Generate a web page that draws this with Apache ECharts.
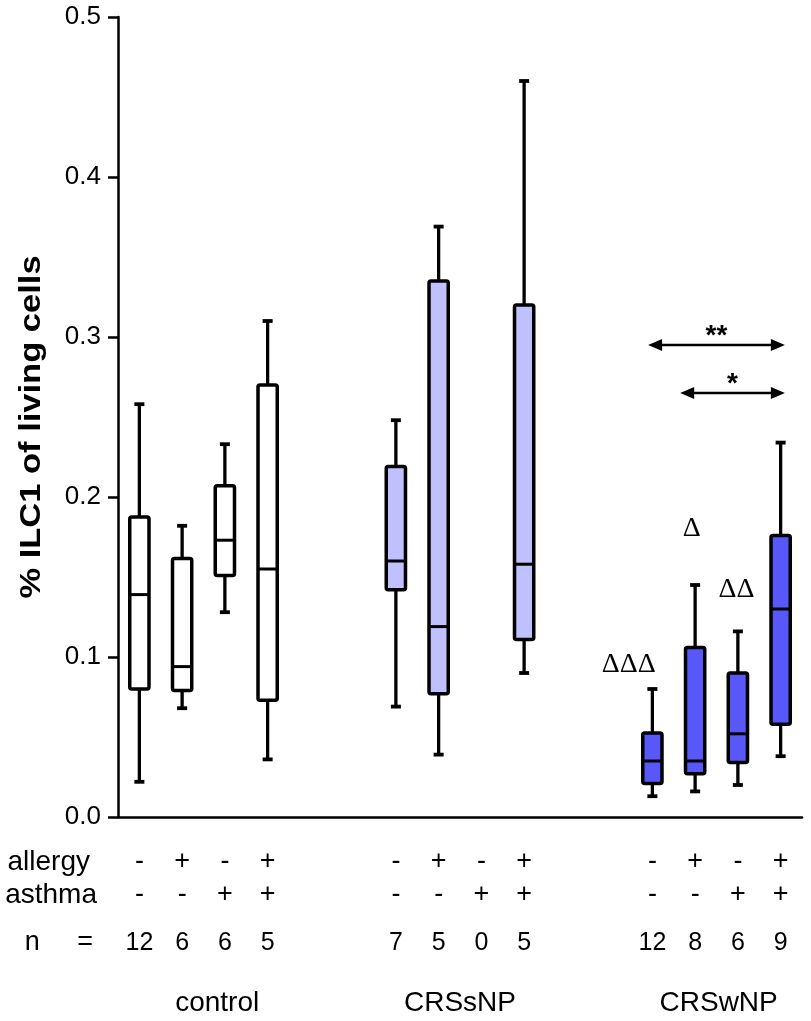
<!DOCTYPE html>
<html>
<head>
<meta charset="utf-8">
<script src="https://cdn.jsdelivr.net/npm/echarts@6/dist/echarts.min.js"></script>
<style>
  html, body { margin: 0; padding: 0; background: #fff; }
  #chart { width: 811px; height: 1021px; }
</style>
</head>
<body>
<div id="chart"></div>
<script>
// Slots along the x axis: 0-3 control, 6-9 CRSsNP, 12-15 CRSwNP (4-5 and 10-11 are gaps)
const allergyMarks = ['-', '+', '-', '+', '', '', '-', '+', '-', '+', '', '', '-', '+', '-', '+'];
const asthmaMarks  = ['-', '-', '+', '+', '', '', '-', '-', '+', '+', '', '', '-', '-', '+', '+'];
const nCounts      = ['12', '6', '6', '5', '', '', '7', '5', '0', '5', '', '', '12', '8', '6', '9'];

const groupNames   = ['control', 'CRSsNP', 'CRSwNP'];
const groupCenters = [1.82, 7.5, 13.55];

const yTitle = '% ILC1 of living cells';

// Box statistics per slot: [slot, min, Q1, median, Q3, max] (% ILC1 of living cells)
const controlBoxes = [
  [0, 0.022, 0.080, 0.139, 0.1875, 0.258],
  [1, 0.068, 0.079, 0.094, 0.1615, 0.182],
  [2, 0.128, 0.151, 0.173, 0.207, 0.233],
  [3, 0.036, 0.073, 0.155, 0.270, 0.310]
];
const crsSNPBoxes = [
  [6, 0.069, 0.142, 0.160, 0.219, 0.248],
  [7, 0.039, 0.077, 0.119, 0.335, 0.369],
  [9, 0.090, 0.111, 0.158, 0.320, 0.460]
];
const crsWNPBoxes = [
  [12, 0.013, 0.021, 0.035, 0.0525, 0.080],
  [13, 0.016, 0.027, 0.035, 0.106, 0.145],
  [14, 0.020, 0.034, 0.052, 0.090, 0.116],
  [15, 0.038, 0.058, 0.130, 0.176, 0.234]
];

// Significance marks: [slot, value, text]
const deltaMarks = [
  [11.45, 0.095, 'ΔΔΔ'],
  [12.92, 0.180, 'Δ'],
  [13.97, 0.142, 'ΔΔ']
];
// Pairwise comparisons: [fromSlot, toSlot, value, text]
const comparisonArrows = [
  [11.9, 15.1, 0.295, '**'],
  [12.65, 15.1, 0.265, '*']
];

const FONT = '"Liberation Sans", Arial, Helvetica, sans-serif';
const INK = '#000';

function boxRenderer(fill) {
  return function (params, api) {
    const slot = api.value(0);
    const lo = api.coord([slot, api.value(1)]);
    const q1 = api.coord([slot, api.value(2)]);
    const md = api.coord([slot, api.value(3)]);
    const q3 = api.coord([slot, api.value(4)]);
    const hi = api.coord([slot, api.value(5)]);
    const bw = api.size([1, 0])[0] * 0.45;
    const cx = lo[0];
    const capHalf = 5;
    const whisker = { stroke: INK, lineWidth: 3.3, fill: null };
    const cap = { stroke: INK, lineWidth: 3.8, fill: null };
    return {
      type: 'group',
      children: [
        { type: 'line', shape: { x1: cx, y1: hi[1], x2: cx, y2: q3[1] }, style: whisker },
        { type: 'line', shape: { x1: cx, y1: q1[1], x2: cx, y2: lo[1] }, style: whisker },
        { type: 'line', shape: { x1: cx - capHalf, y1: hi[1], x2: cx + capHalf, y2: hi[1] }, style: cap },
        { type: 'line', shape: { x1: cx - capHalf, y1: lo[1], x2: cx + capHalf, y2: lo[1] }, style: cap },
        { type: 'rect', shape: { x: cx - bw / 2, y: q3[1], width: bw, height: q1[1] - q3[1], r: 2 },
          style: { fill: fill, stroke: INK, lineWidth: 3.5 } },
        { type: 'line', shape: { x1: cx - bw / 2, y1: md[1], x2: cx + bw / 2, y2: md[1] },
          style: { stroke: INK, lineWidth: 3 } }
      ]
    };
  };
}

function boxSeries(data, fill) {
  return {
    type: 'custom',
    xAxisIndex: 0,
    yAxisIndex: 0,
    data: data,
    encode: { x: 0, y: [1, 2, 3, 4, 5] },
    renderItem: boxRenderer(fill),
    silent: true
  };
}

function rowAxis(marks, offset, labelSize, name, nameGap, nameSize) {
  return {
    type: 'category',
    gridIndex: 0,
    position: 'bottom',
    offset: offset,
    data: marks,
    boundaryGap: true,
    axisLine: { show: false, onZero: false },
    axisTick: { show: false },
    splitLine: { show: false },
    axisLabel: {
      interval: 0, margin: 0, verticalAlign: 'middle',
      fontSize: labelSize, color: INK, fontFamily: FONT
    },
    name: name,
    nameLocation: 'start',
    nameGap: nameGap,
    nameMoveOverlap: false,
    nameTextStyle: { fontSize: nameSize, color: INK, fontFamily: FONT, verticalAlign: 'middle', align: 'right' }
  };
}

const chart = echarts.init(document.getElementById('chart'), null, { renderer: 'canvas' });

chart.setOption({
  backgroundColor: '#fff',
  animation: false,
  grid: { left: 118, right: 9, top: 17, bottom: 204, containLabel: false, outerBoundsMode: 'none' },
  xAxis: [
    {
      type: 'value', min: -0.5, max: 15.5,
      axisLine: { show: true, onZero: false, lineStyle: { color: INK, width: 2.5 } },
      axisTick: { show: false },
      axisLabel: { show: false },
      splitLine: { show: false }
    },
    rowAxis(allergyMarks, 45, 27, 'allergy', 28, 28),
    rowAxis(asthmaMarks, 78, 27, 'asthma', 21, 28),
    rowAxis(nCounts, 126, 25, 'n     =', 25, 27),
    {
      type: 'value', min: -0.5, max: 15.5,
      position: 'bottom', offset: 186,
      axisLine: { show: false, onZero: false },
      axisTick: { show: false },
      splitLine: { show: false },
      axisLabel: {
        customValues: groupCenters,
        formatter: (v) => groupNames[groupCenters.indexOf(v)] || '',
        margin: 0, verticalAlign: 'middle',
        fontSize: 28, color: INK, fontFamily: FONT
      }
    }
  ],
  yAxis: {
    type: 'value', min: 0, max: 0.5, interval: 0.1,
    axisLine: { show: true, onZero: false, lineStyle: { color: INK, width: 2.5 } },
    axisTick: { show: true, length: 10, lineStyle: { color: INK, width: 2.5 } },
    axisLabel: { formatter: (v) => v.toFixed(1), fontSize: 26, color: INK, fontFamily: FONT, margin: 17 },
    splitLine: { show: false }
  },
  graphic: [
    {
      type: 'text',
      x: 32, y: 427,
      rotation: Math.PI / 2,
      scaleX: 1.15,
      style: {
        text: yTitle, align: 'center', verticalAlign: 'middle',
        font: 'bold 30px ' + FONT, fill: INK
      }
    }
  ],
  series: [
    boxSeries(controlBoxes, '#ffffff'),
    boxSeries(crsSNPBoxes, '#c0c0ff'),
    boxSeries(crsWNPBoxes, '#5858f8'),
    {
      type: 'custom',
      data: deltaMarks,
      encode: { x: 0, y: 1 },
      silent: true,
      renderItem: function (params, api) {
        const p = api.coord([api.value(0), api.value(1)]);
        return {
          type: 'text',
          style: {
            text: deltaMarks[params.dataIndex][2], x: p[0], y: p[1],
            align: 'center', verticalAlign: 'middle',
            font: '28px "Liberation Serif", "Times New Roman", serif', fill: INK
          }
        };
      }
    },
    {
      type: 'custom',
      data: comparisonArrows,
      encode: { x: [0, 1], y: 2 },
      silent: true,
      renderItem: function (params, api) {
        const a = api.coord([api.value(0), api.value(2)]);
        const b = api.coord([api.value(1), api.value(2)]);
        const y = a[1];
        const head = 14, half = 6;
        return {
          type: 'group',
          children: [
            { type: 'line', shape: { x1: a[0] + head - 2, y1: y, x2: b[0] - head + 2, y2: y },
              style: { stroke: INK, lineWidth: 2.3 } },
            { type: 'polygon', shape: { points: [[a[0], y], [a[0] + head, y - half], [a[0] + head, y + half]] },
              style: { fill: INK } },
            { type: 'polygon', shape: { points: [[b[0], y], [b[0] - head, y - half], [b[0] - head, y + half]] },
              style: { fill: INK } },
            { type: 'text', style: {
                text: comparisonArrows[params.dataIndex][3], x: (a[0] + b[0]) / 2, y: y - 9,
                align: 'center', verticalAlign: 'middle',
                font: 'bold 28px ' + FONT, fill: INK } }
          ]
        };
      }
    }
  ]
});
</script>
</body>
</html>
